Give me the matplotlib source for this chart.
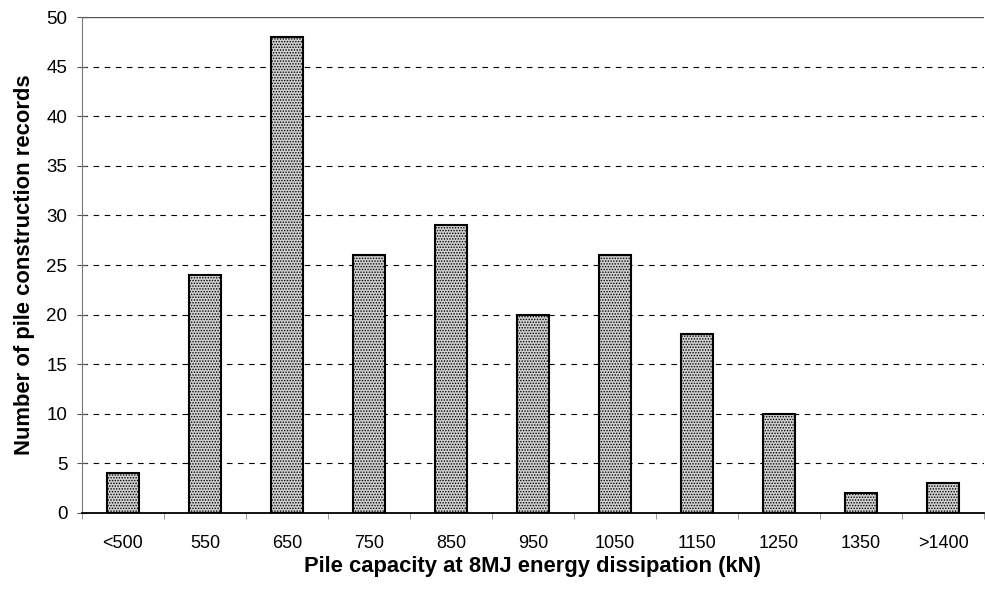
import matplotlib
matplotlib.use("Agg")
import matplotlib.pyplot as plt
import numpy as np

categories = ["<500", "550", "650", "750", "850", "950", "1050", "1150", "1250", "1350", ">1400"]
counts = [4, 24, 48, 26, 29, 20, 26, 18, 10, 2, 3]
yticks = [0, 5, 10, 15, 20, 25, 30, 35, 40, 45, 50]

plt.rcParams["font.family"] = ["Liberation Sans", "DejaVu Sans"]
plt.rcParams["hatch.color"] = "#2a2a2a"
plt.rcParams["hatch.linewidth"] = 0.7

fig = plt.figure(figsize=(9.85, 5.91), dpi=100)
ax = fig.add_axes([0.0832, 0.132, 0.9158, 0.839])

x = np.arange(len(categories))
ax.bar(x, counts, width=0.40, facecolor="#d0d0d0", edgecolor="black",
       linewidth=1.5, hatch="......", zorder=3)

ax.set_xlim(-0.5, len(categories) - 0.5)
ax.set_ylim(0, 50)
ax.set_yticks(yticks)
ax.set_xticks(x)
ax.set_xticklabels(categories)
ax.set_xticks(np.arange(-0.5, len(categories), 1), minor=True)

# dashed horizontal gridlines and the solid top border line
for y in yticks[1:-1]:
    ax.axhline(y, color="black", linestyle=(0, (5, 5)), linewidth=0.8, zorder=1)
ax.axhline(50, color="#555555", linewidth=1.0, zorder=1)

ax.spines["top"].set_visible(False)
ax.spines["right"].set_visible(False)
ax.spines["left"].set_color("#777777")
ax.spines["left"].set_linewidth(0.8)
ax.spines["bottom"].set_linewidth(1.3)

ax.tick_params(axis="y", labelsize=13.5, direction="inout", length=7, width=0.8,
               color="#555555", pad=7)
ax.tick_params(axis="x", which="major", length=0, labelsize=13, pad=16)
ax.tick_params(axis="x", which="minor", length=4, width=0.6, color="#888888")

ax.set_xlabel("Pile capacity at 8MJ energy dissipation (kN)", fontsize=15.8,
              fontweight="bold", labelpad=3)
ax.set_ylabel("Number of pile construction records", fontsize=15.8,
              fontweight="bold", labelpad=8)

fig.savefig("out.png", dpi=100)
